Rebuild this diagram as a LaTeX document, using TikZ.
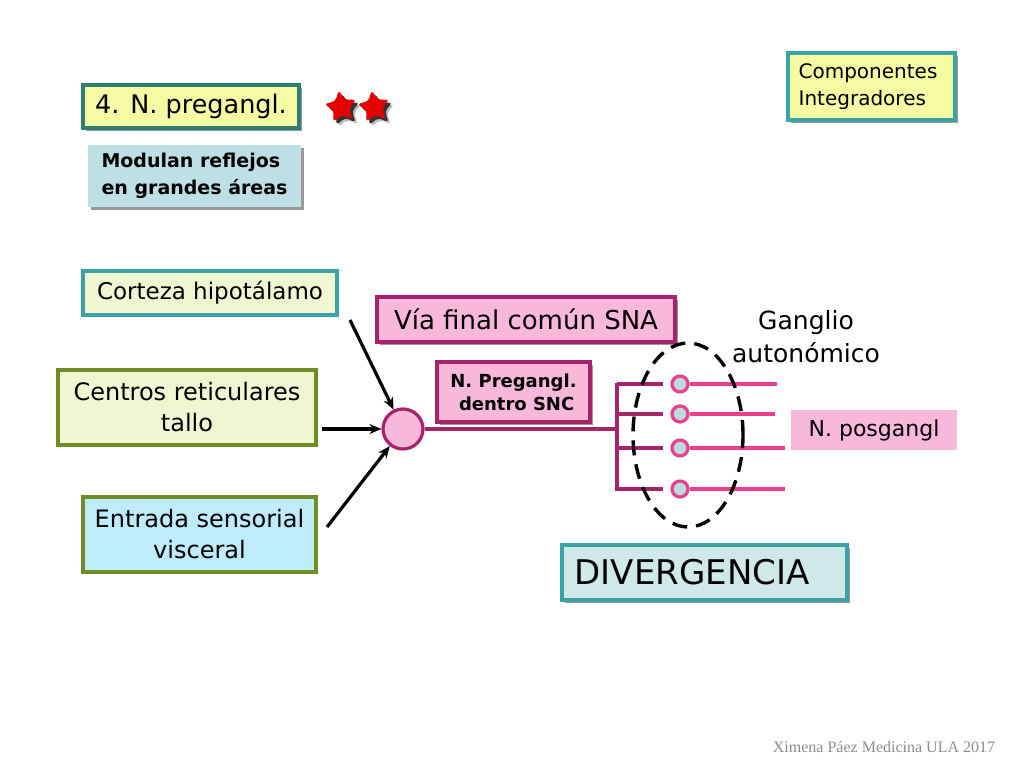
\documentclass[tikz,border=0pt]{standalone}
\usepackage{fontspec}
\setmainfont{DejaVu Sans}
\newfontfamily\footfont{Liberation Serif}
\usetikzlibrary{arrows.meta,shapes.geometric,shadows}
\definecolor{yel}{HTML}{F4FBA2}
\definecolor{teal1}{HTML}{2F7E74}
\definecolor{teal2}{HTML}{3AA3A6}
\definecolor{pale}{HTML}{F1F6D2}
\definecolor{olive}{HTML}{6E8E25}
\definecolor{lblue}{HTML}{BEE0E4}
\definecolor{skyb}{HTML}{BFECFA}
\definecolor{pinkf}{HTML}{F8B8D9}
\definecolor{magd}{HTML}{A8246A}
\definecolor{pinkl}{HTML}{EA3F8E}
\definecolor{cyanf}{HTML}{BADCDC}
\definecolor{divf}{HTML}{CFE9E9}
\begin{document}
\begin{tikzpicture}[x=1pt,y=-1pt,
  every node/.style={inner sep=0pt,align=center,text=black},
  shad/.style={drop shadow={shadow xshift=3pt,shadow yshift=-3pt,fill=black!40,opacity=1}},
  bx/.style={rectangle,line width=3.2pt},
  arr/.style={line width=3.2pt,-{Stealth[length=12pt,width=10pt]}},
  nerv/.style={line width=3.4pt,draw=magd},
  post/.style={line width=3.4pt,draw=pinkl},
  gang/.style={circle,minimum size=16pt,line width=3.2pt,draw=pinkl,fill=cyanf},
  astr/.style={star,star points=5,star point ratio=2.1,minimum size=34pt,rounded corners=3.5pt,rotate=8}]
\useasboundingbox (0,0) rectangle (1024,768);
\fill[white] (0,0) rectangle (1024,768);

% top left
\node[bx,shad,draw=teal1,fill=yel,minimum width=216pt,minimum height=43pt,font=\fontsize{25.5}{30}\selectfont] (preg) at (191,106.5) {4. N. pregangl.};
\foreach \sx/\nm in {341/s1,374/s2}{
  \node[astr,fill=black!25] at (\sx+5,112) {};
  \node[astr,fill=black!80] at (\sx+3,110) {};
  \node[astr,fill=red!90!black] (\nm) at (\sx,107) {};
}
\node[bx,shad,fill=lblue,minimum width=213pt,minimum height=62pt,font=\bfseries\fontsize{19}{27}\selectfont,align=left] (mod) at (194.5,176) {Modulan reflejos\\en grandes áreas};

% top right
\node[bx,shad,draw=teal2,fill=yel,minimum width=167pt,minimum height=67pt] (comp) at (871.5,86.5) {};
\node[anchor=west,font=\fontsize{20}{27}\selectfont,align=left] (compt) at ([xshift=12pt]comp.west) {Componentes\\Integradores};

% inputs
\node[bx,draw=teal2,fill=pale,minimum width=254pt,minimum height=44pt,font=\fontsize{23}{26}\selectfont] (cort) at (210,293) {Corteza hipotálamo};
\node[bx,draw=olive,fill=pale,minimum width=258pt,minimum height=75pt,font=\fontsize{24}{31}\selectfont] (cent) at (187,407.5) {Centros reticulares\\tallo};
\node[bx,draw=olive,fill=skyb,minimum width=233pt,minimum height=75pt,font=\fontsize{24}{31}\selectfont] (entr) at (199.5,534.5) {Entrada sensorial\\visceral};

% neuron
\node[circle,minimum size=40pt,line width=3.2pt,draw=magd,fill=pinkf] (soma) at (403,429) {};
\coordinate (a1) at (350,320);
\coordinate (a3) at (327,527);
\draw[arr] (a1) -- (soma);
\draw[arr,shorten <=4pt] (cent.east |- soma) -- (soma);
\draw[arr] (a3) -- (soma);

\node[bx,shad,draw=magd,fill=pinkf,minimum width=298pt,minimum height=45pt,font=\fontsize{26}{28}\selectfont] (via) at (526,319.5) {Vía final común SNA};
\node[bx,shad,draw=magd,fill=pinkf,minimum width=153pt,minimum height=60pt,font=\bfseries\fontsize{18}{23}\selectfont] (npre) at (513.5,392) {N. Pregangl.\\\ dentro SNC};

\coordinate (br) at (617,429);
\draw[nerv] (soma.east) -- (br);
\draw[nerv] (617,382.5) -- (617,490.5);
\foreach \yy/\xe/\nm in {384/777/g1,414/775/g2,448/785/g3,489/785/g4}{
  \node[gang] (\nm) at (680,\yy) {};
  \draw[nerv] (617,\yy) -- (663,\yy);
  \coordinate (\nm e) at (\xe,\yy);
  \draw[post] (\nm.east) -- (\nm e);
}
\node[ellipse,draw=black,line width=3.4pt,dash pattern=on 15pt off 9pt,minimum width=110pt,minimum height=184pt] (ell) at (688,435) {};

\node[font=\fontsize{25}{33}\selectfont] (gl) at (806,337) {Ganglio\\autonómico};
\node[fill=pinkf,minimum width=166pt,minimum height=40pt,font=\fontsize{22}{24}\selectfont] (posg) at (874,430) {N. posgangl};

\node[bx,shad,draw=teal2,fill=divf,minimum width=285pt,minimum height=55pt] (div) at (704.5,572.5) {};
\node[anchor=west,font=\fontsize{34}{38}\selectfont] (divt) at ([xshift=14pt]div.west) {DIVERGENCIA};

\node[font=\footfont\fontsize{16}{18}\selectfont,text=black!45] (foot) at (884,747) {Ximena Páez Medicina ULA 2017};
\end{tikzpicture}
\end{document}
